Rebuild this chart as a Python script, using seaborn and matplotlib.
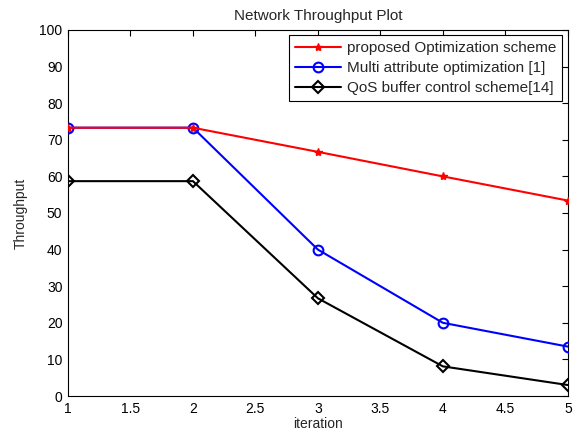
import pandas as pd
import matplotlib
matplotlib.use('Agg')
import matplotlib.pyplot as plt
import seaborn as sns

iteration = [1, 2, 3, 4, 5]
proposed = [73.3, 73.3, 66.7, 60.0, 53.4]
multi_attr = [73.3, 73.3, 40.0, 20.0, 13.5]
qos_buffer = [58.7, 58.7, 26.7, 8.1, 3.0]
labels = ['proposed Optimization scheme', 'Multi attribute optimization [1]',
          'QoS buffer control scheme[14]']
colors = ['red', 'blue', 'black']

df = pd.DataFrame({'iteration': iteration * 3,
                   'Throughput': proposed + multi_attr + qos_buffer,
                   'scheme': [labels[0]] * 5 + [labels[1]] * 5 + [labels[2]] * 5})

sns.set_style('white')
plt.rcParams['font.family'] = ['Liberation Sans', 'DejaVu Sans']
plt.rcParams['font.size'] = 10

fig = plt.figure(figsize=(5.86, 4.32), dpi=100)
ax = fig.add_axes([0.116, 0.0833, 0.853, 0.8473])

sns.lineplot(data=df, x='iteration', y='Throughput', hue='scheme',
             hue_order=labels, palette=colors, linewidth=1.5,
             legend=False, ax=ax)

# marker styling like the matlab original
marker_opts = [('*', 6, 'red', 1.0), ('o', 7, 'none', 1.5), ('D', 6, 'none', 1.5)]
for line, c, (mk, ms, fc, mew), z in zip(ax.lines, colors, marker_opts, [4, 3, 2]):
    line.set_marker(mk)
    line.set_markersize(ms)
    line.set_markeredgecolor(c)
    line.set_markerfacecolor(fc)
    line.set_markeredgewidth(mew)
    line.set_zorder(z)

ax.set_xlim(1, 5)
ax.set_ylim(0, 100)
ax.set_xticks([1, 1.5, 2, 2.5, 3, 3.5, 4, 4.5, 5])
ax.set_xticklabels(['1', '1.5', '2', '2.5', '3', '3.5', '4', '4.5', '5'])
ax.set_yticks(range(0, 101, 10))
ax.tick_params(direction='in', length=4, width=0.8, top=True, right=True,
               labelsize=10, colors='black', pad=4)
for s in ax.spines.values():
    s.set_color('black')
    s.set_linewidth(0.8)
ax.set_title('Network Throughput Plot', fontsize=11, pad=7)
ax.set_xlabel('iteration', fontsize=10, labelpad=1)
ax.set_ylabel('Throughput', fontsize=10, labelpad=8)

leg = ax.legend(handles=ax.lines[:3], labels=labels, loc='upper right',
                fontsize=11, frameon=True, fancybox=False,
                edgecolor='black', framealpha=1, borderaxespad=0.35,
                handlelength=3.0, handletextpad=0.4, labelspacing=0.38,
                borderpad=0.4)
leg.get_frame().set_linewidth(0.8)

fig.savefig('out.png', dpi=100)
